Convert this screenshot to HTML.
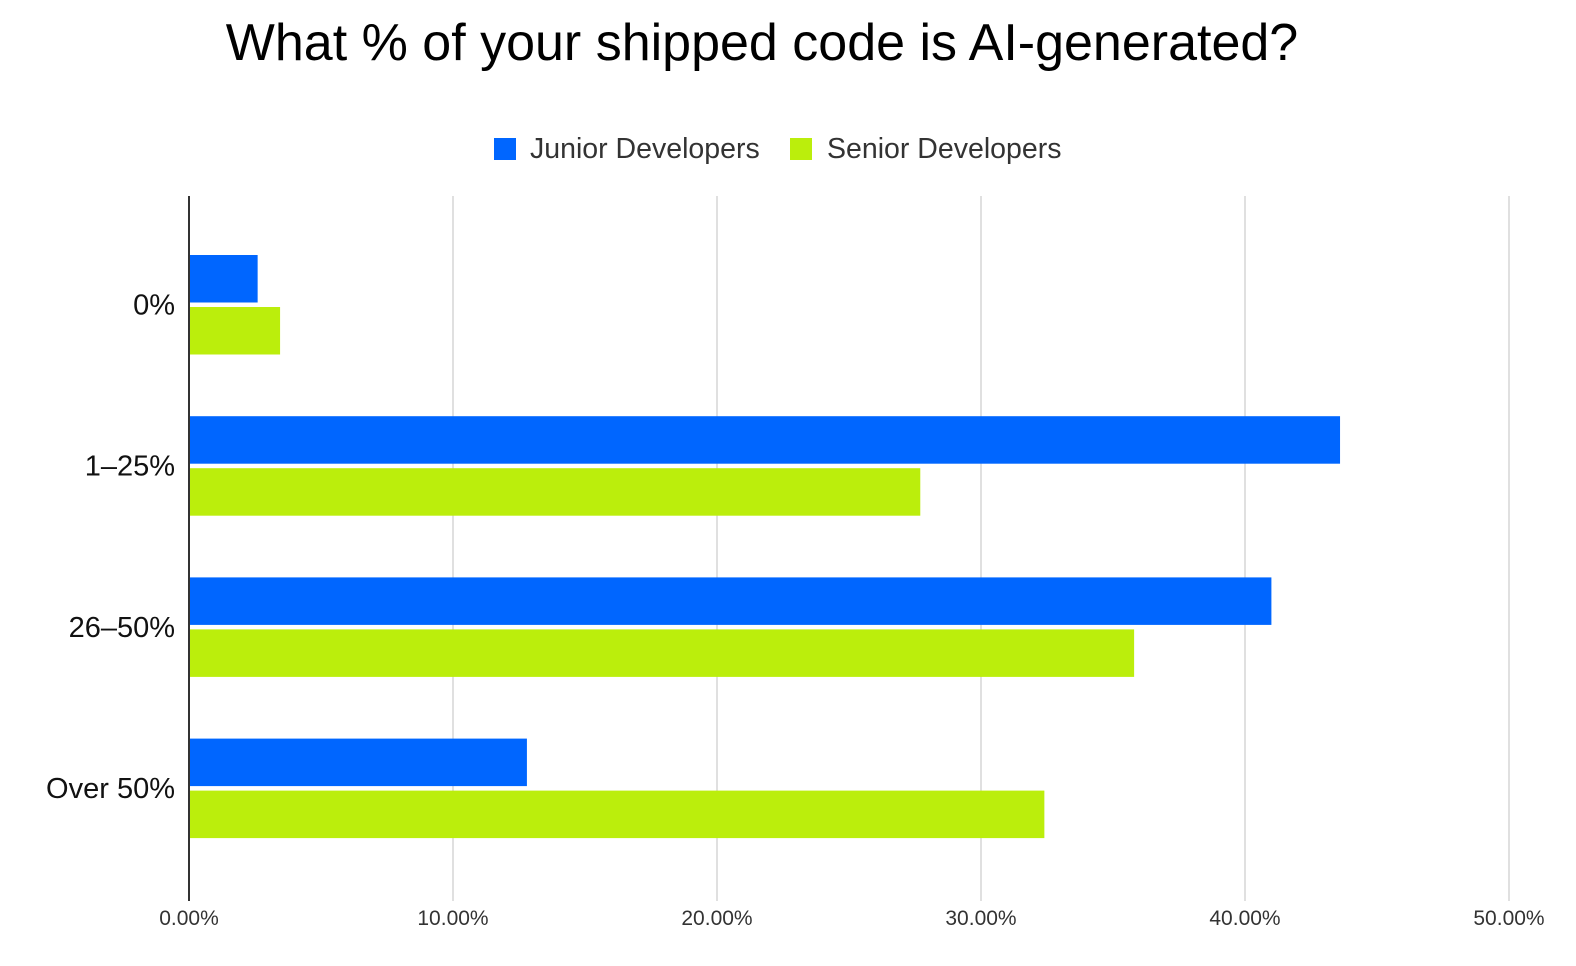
<!DOCTYPE html>
<html><head><meta charset="utf-8"><style>
html,body{margin:0;padding:0;background:#fff;}
svg{display:block;font-family:"Liberation Sans",Arial,sans-serif;}
</style></head><body>
<svg id="chart" width="1576" height="966" viewBox="0 0 1576 966">
<text x="762" y="60" text-anchor="middle" font-size="52" fill="#000">What % of your shipped code is AI-generated?</text>
<g>
<rect x="494" y="138" width="22" height="22" fill="#0066ff"/>
<text x="530" y="158" font-size="28.5" fill="#333">Junior Developers</text>
<rect x="790" y="138" width="22" height="22" fill="#bbee0c"/>
<text x="827" y="158" font-size="28.5" fill="#333">Senior Developers</text>
</g>
<g id="grid"></g><g id="bars"></g><g id="labels"></g>
<line x1="189" y1="196" x2="189" y2="901" stroke="#333" stroke-width="2"/>
</svg>
<script>
const categories = ["0%", "1\u201325%", "26\u201350%", "Over 50%"];
const juniorValues = [2.6, 43.6, 41.0, 12.8];
const seniorValues = [3.45, 27.7, 35.8, 32.4];
const tickValues = [0, 10, 20, 30, 40, 50];
const tickLabels = ["0.00%", "10.00%", "20.00%", "30.00%", "40.00%", "50.00%"];

const NS = "http://www.w3.org/2000/svg";
const x0 = 189, pxPer = 26.4;
function xScale(v){ return x0 + v * pxPer; }
function yCenter(i){ return 304.5 + i * 161.2; }
function mk(tag, attrs, parent){
  const e = document.createElementNS(NS, tag);
  for (const k in attrs) e.setAttribute(k, attrs[k]);
  parent.appendChild(e); return e;
}
const grid = document.getElementById("grid");
const bars = document.getElementById("bars");
const labels = document.getElementById("labels");
tickValues.forEach((t, i) => {
  const x = xScale(t);
  if (t !== 0) {
    const l = mk("line", {x1:x, y1:196, x2:x, y2:901, stroke:"#d6d6d6", "stroke-width":1.5}, grid);
    
    
  }
  const tx = mk("text", {x:x, y:925, "text-anchor":"middle", "font-size":21, fill:"#333"}, labels);
  tx.textContent = tickLabels[i];
  
  
});
categories.forEach((c, i) => {
  const yc = yCenter(i);
  const bj = mk("rect", {x:x0, y:yc-49.5, width:xScale(juniorValues[i])-x0, height:47.5, fill:"#0066ff"}, bars);
  
  
  const bs = mk("rect", {x:x0, y:yc+2.5, width:xScale(seniorValues[i])-x0, height:47.5, fill:"#bbee0c"}, bars);
  
  
  const t = mk("text", {x:175, y:yc+10, "text-anchor":"end", "font-size":29, fill:"#111"}, labels);
  t.textContent = c;
  
  
});
</script>
</body></html>
